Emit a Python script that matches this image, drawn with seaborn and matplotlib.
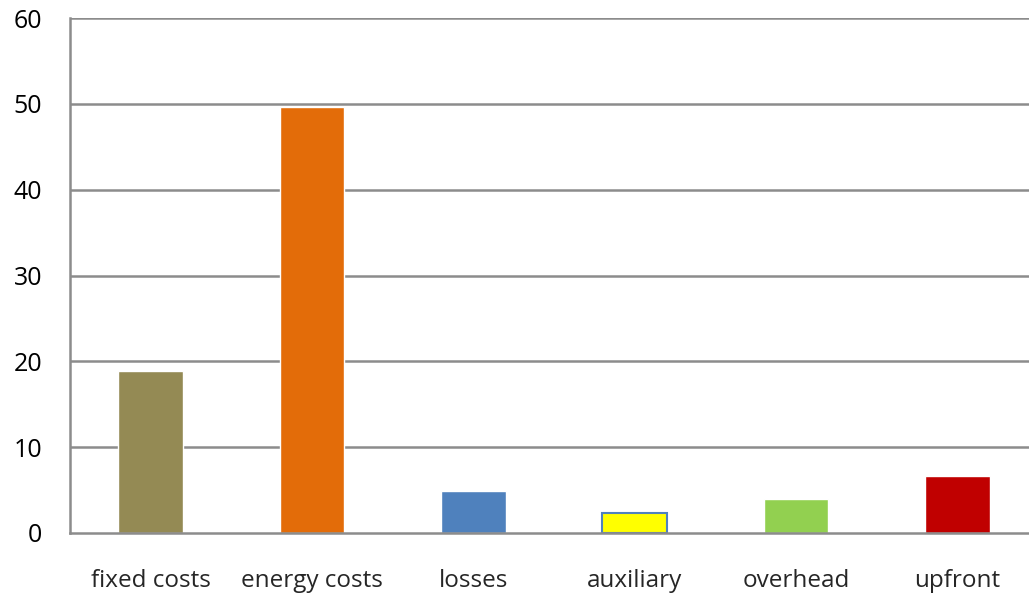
import matplotlib
matplotlib.use("Agg")
import matplotlib.pyplot as plt
import seaborn as sns
import pandas as pd
import numpy as np

categories = ["fixed costs", "energy costs", "losses", "auxiliary", "overhead", "upfront"]
values = [18.9, 49.6, 4.9, 2.3, 4.0, 6.6]
colors = ["#948A54", "#E36C09", "#4F81BD", "#FFFF00", "#92D050", "#C00000"]
yticks = [0, 10, 20, 30, 40, 50, 60]

df = pd.DataFrame({"category": categories, "value": values})

sns.set_style("white")
plt.rcParams['font.family'] = ['Open Sans', 'DejaVu Sans']

fig = plt.figure(figsize=(10.29, 5.97), dpi=100)
ax = fig.add_axes([70/1029, 64/597, 1 - 70/1029, 515/597])

sns.barplot(data=df, x="category", y="value", hue="category", palette=colors,
            width=0.4, legend=False, ax=ax, saturation=1)

# auxiliary bar edge
for i, p in enumerate(ax.patches):
    if categories[i] == "auxiliary":
        p.set_edgecolor("#4F81BD")
        p.set_linewidth(1.5)

gc = "#8c8c8c"
ax.set_ylim(0, 60)
ax.set_xlim(-0.5, 5.5 - 9/161.3)
ax.set_yticks(yticks)
ax.set_yticklabels([str(v) for v in yticks], fontsize=18, color="#000000")
for y in yticks[1:]:
    ax.axhline(y, color=gc, lw=1.8, zorder=0)

ax.set_xticks(range(len(categories)))
ax.set_xticklabels(categories, fontsize=17.5)
ax.tick_params(axis="x", which="major", length=0, pad=26)
ax.set_xticks(np.arange(-0.5, 5.0, 1.0), minor=True)
ax.tick_params(axis="x", which="minor", length=10, width=1.8, color=gc, direction="out")
ax.tick_params(axis="y", length=10, width=1.8, color=gc, direction="out", pad=10)

ax.set_xlabel("")
ax.set_ylabel("")
for s in ["top", "right"]:
    ax.spines[s].set_visible(False)
for s in ["left", "bottom"]:
    ax.spines[s].set_color(gc)
    ax.spines[s].set_linewidth(1.8)

fig.savefig("out.png", dpi=100)
